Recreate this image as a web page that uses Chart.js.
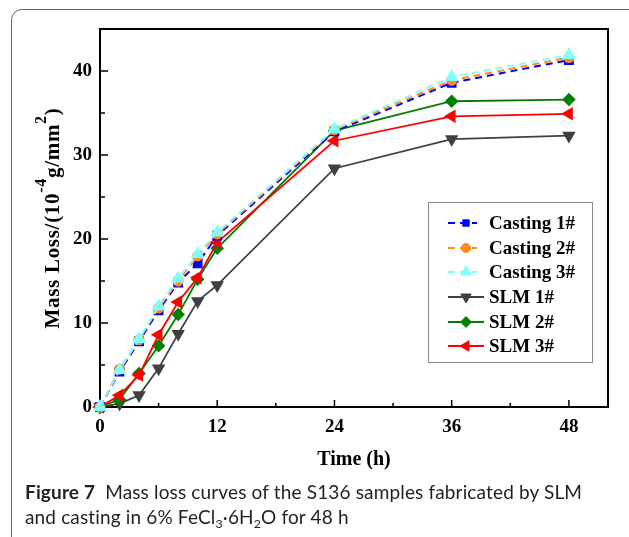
<!DOCTYPE html>
<html>
<head>
<meta charset="utf-8">
<script src="https://cdn.jsdelivr.net/npm/chart.js@4.4.1/dist/chart.umd.min.js"></script>
<style>
    body { margin: 0; background: #fff; }
    #marco { position: absolute; left: 11px; top: 9px; width: 640px; height: 540px; border: 1.5px solid #666; border-radius: 11px; }
    #chart { position: absolute; left: 0; top: 0; }
    #pie { position: absolute; left: 25px; top: 479px; font-family: 'Lato'; font-size: 19px; line-height: 25px; letter-spacing: 0.15px; color: #231f20; white-space: nowrap; }
    #pie sub { font-size: 0.65em; vertical-align: -0.3em; line-height: 0; }
</style>
</head>
<body>
<div id="marco"></div>
<canvas id="chart" width="629" height="537"></canvas>
<div id="pie"><b>Figure 7</b>&nbsp; Mass loss curves of the S136 samples fabricated by SLM<br>and casting in 6% FeCl<sub>3</sub>·6H<sub>2</sub>O for 48 h</div>
<script>
let horas = [0, 2, 4, 6, 8, 10, 12, 24, 36, 48];
let casting1 = [0, 4.2, 7.8, 11.5, 14.8, 17.1, 20.4, 32.8, 38.6, 41.3];
let casting2 = [0, 4.5, 8.0, 11.8, 15.0, 18.0, 20.6, 33.0, 38.9, 41.6];
let casting3 = [0, 4.4, 8.1, 12.0, 15.3, 18.2, 20.8, 33.1, 39.3, 41.9];
let slm1 = [0, 0.4, 1.4, 4.6, 8.7, 12.6, 14.5, 28.4, 31.9, 32.3];
let slm2 = [0, 0.9, 4.0, 7.3, 11.0, 15.2, 18.9, 32.9, 36.4, 36.6];
let slm3 = [0, 1.4, 3.8, 8.6, 12.5, 15.4, 19.6, 31.7, 34.6, 34.9];

let ticksX = [0, 12, 24, 36, 48];
let menoresX = [6, 18, 30, 42];
let ticksY = [0, 10, 20, 30, 40];
let menoresY = [5, 15, 25, 35];

let serif = "'Liberation Serif', 'Times New Roman', serif";

function puntos(serie) {
    return horas.map((h, i) => ({ x: h, y: serie[i] }));
}

let datos = {
    datasets: [
        {
            label: 'Casting 1#',
            data: puntos(casting1),
            borderColor: '#0000ff',
            backgroundColor: '#0000ff',
            borderWidth: 2,
            borderDash: [7, 5],
            pointStyle: 'rect',
            pointRadius: 5.5,
            order: 3,
        },
        {
            label: 'Casting 2#',
            data: puntos(casting2),
            borderColor: '#ff8c1a',
            backgroundColor: '#ff8c1a',
            borderWidth: 2,
            borderDash: [7, 5],
            pointStyle: 'circle',
            pointRadius: 4.5,
            order: 2,
        },
        {
            label: 'Casting 3#',
            data: puntos(casting3),
            borderColor: '#80ffff',
            backgroundColor: '#80ffff',
            borderWidth: 2,
            borderDash: [7, 5],
            pointStyle: 'triangle',
            pointRadius: 6,
            order: 1,
        },
        {
            label: 'SLM 1#',
            data: puntos(slm1),
            borderColor: '#404040',
            backgroundColor: '#404040',
            borderWidth: 1.8,
            pointStyle: 'triangle',
            pointRotation: 180,
            pointRadius: 6,
            order: 6,
        },
        {
            label: 'SLM 2#',
            data: puntos(slm2),
            borderColor: '#008000',
            backgroundColor: '#008000',
            borderWidth: 1.8,
            pointStyle: 'rectRot',
            pointRadius: 5.5,
            order: 5,
        },
        {
            label: 'SLM 3#',
            data: puntos(slm3),
            borderColor: '#ff0000',
            backgroundColor: '#ff0000',
            borderWidth: 1.8,
            pointStyle: 'triangle',
            pointRotation: 270,
            pointRadius: 6,
            order: 4,
        }
    ]
};

// marco, ticks hacia dentro, titulo del eje y y leyenda
let extras = {
    id: 'extras',
    beforeDatasetsDraw(chart) {
        let ctx = chart.ctx;
        let a = chart.chartArea;
        let x = chart.scales.x;
        let y = chart.scales.y;
        ctx.save();
        ctx.strokeStyle = '#000';
        ctx.lineWidth = 2;
        ctx.strokeRect(a.left, a.top, a.right - a.left, a.bottom - a.top);
        ctx.lineWidth = 1.5;
        ctx.beginPath();
        ticksX.forEach(v => { let px = x.getPixelForValue(v); ctx.moveTo(px, a.bottom); ctx.lineTo(px, a.bottom - 7); });
        menoresX.forEach(v => { let px = x.getPixelForValue(v); ctx.moveTo(px, a.bottom); ctx.lineTo(px, a.bottom - 4); });
        ticksY.forEach(v => { let py = y.getPixelForValue(v); ctx.moveTo(a.left, py); ctx.lineTo(a.left + 8, py); });
        menoresY.forEach(v => { let py = y.getPixelForValue(v); ctx.moveTo(a.left, py); ctx.lineTo(a.left + 5, py); });
        ctx.stroke();
        ctx.restore();
    },
    afterDraw(chart) {
        let ctx = chart.ctx;
        ctx.save();
        ctx.fillStyle = '#000';

        // titulo eje y con superindices
        ctx.translate(59, 218);
        ctx.rotate(-Math.PI / 2);
        ctx.letterSpacing = '0.7px';
        let partes = [
            ['Mass Loss/(10', 21, 0],
            ['-4', 16, -13],
            ['g/mm', 21, 0],
            ['2', 16, -13],
            [')', 21, 0]
        ];
        let total = 0;
        partes.forEach(p => { ctx.font = 'bold ' + p[1] + 'px ' + serif; total += ctx.measureText(p[0]).width; });
        let cx = -total / 2;
        ctx.textBaseline = 'alphabetic';
        partes.forEach(p => {
            ctx.font = 'bold ' + p[1] + 'px ' + serif;
            ctx.fillText(p[0], cx, p[2]);
            cx += ctx.measureText(p[0]).width;
        });
        ctx.restore();

        // leyenda
        ctx.save();
        ctx.strokeStyle = '#888';
        ctx.lineWidth = 1;
        ctx.strokeRect(428.5, 202.5, 164, 160);
        let filas = [223, 248, 272, 297, 322, 346];
        ['Casting 1#', 'Casting 2#', 'Casting 3#', 'SLM 1#', 'SLM 2#', 'SLM 3#'].forEach((nombre, i) => {
            let ds = chart.data.datasets.find(d => d.label === nombre);
            let fy = filas[i];
            ctx.strokeStyle = ds.borderColor;
            ctx.fillStyle = ds.backgroundColor;
            ctx.lineWidth = ds.borderWidth;
            ctx.setLineDash(ds.borderDash || []);
            ctx.beginPath();
            ctx.moveTo(448, fy);
            ctx.lineTo(ds.borderDash ? 477 : 484, fy);
            ctx.stroke();
            ctx.setLineDash([]);
            ctx.lineWidth = 1;
            Chart.helpers.drawPoint(ctx, {
                pointStyle: ds.pointStyle,
                rotation: ds.pointRotation || 0,
                radius: ds.pointStyle === 'rect' ? 4.5 : ds.pointRadius,
                borderWidth: 1
            }, 466, fy);
            ctx.fillStyle = '#000';
            ctx.font = 'bold 19px ' + serif;
            ctx.textBaseline = 'middle';
            ctx.fillText(nombre, 489, fy + 1);
        });
        ctx.restore();
    }
};

let ctx = document.getElementById('chart');

let miGrafica = new Chart(ctx, {
    type: 'line',
    data: datos,
    plugins: [extras],
    options: {
        responsive: false,
        animation: false,
        devicePixelRatio: 1,
        layout: { padding: { top: 29, right: 21, left: 0, bottom: 0 } },
        plugins: { legend: { display: false }, tooltip: { enabled: false } },
        elements: { line: { tension: 0, fill: false } },
        datasets: { line: { clip: false } },
        scales: {
            x: {
                type: 'linear',
                min: 0,
                max: 52,
                afterBuildTicks: s => { s.ticks = ticksX.map(v => ({ value: v })); },
                afterFit: s => { s.height = 130; },
                grid: { display: false, drawTicks: false },
                border: { display: false },
                ticks: { color: '#000', padding: 9, maxRotation: 0, font: { family: serif, size: 19, weight: 'bold' } },
                title: { display: true, text: 'Time (h)', color: '#000', padding: { top: 0, bottom: 65 }, font: { family: serif, size: 20, weight: 'bold' } }
            },
            y: {
                min: 0,
                max: 45,
                afterBuildTicks: s => { s.ticks = ticksY.map(v => ({ value: v })); },
                afterFit: s => { s.width = 100; },
                grid: { display: false, drawTicks: false },
                border: { display: false },
                ticks: { color: '#000', padding: 8, font: { family: serif, size: 19, weight: 'bold' } }
            }
        }
    }
});
</script>
</body>
</html>
